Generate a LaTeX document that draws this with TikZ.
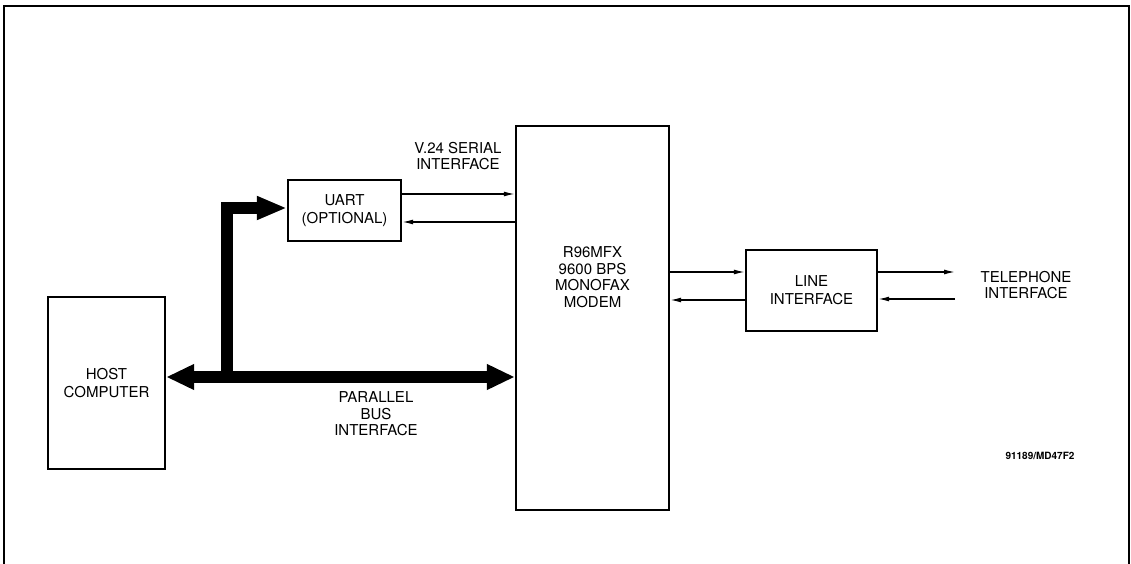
\documentclass[tikz,border=0pt]{standalone}
\usepackage{fontspec}
\setmainfont{TeX Gyre Heros}
\usetikzlibrary{arrows.meta}

\tikzset{
	blk/.style={draw, line width=2.4pt, rectangle, align=center, inner sep=0pt},
	lbl/.style={align=center, font=\fontsize{15}{16.5}\selectfont},
	thin/.style={line width=1.3pt, -{Latex[length=11pt,width=5pt]}},
	bus/.style={line width=12pt},
}

\begin{document}
\begin{tikzpicture}[x=1pt, y=-1pt, font=\fontsize{15}{18}\selectfont]
	\useasboundingbox (0,0) rectangle (1131,564);
	\draw [line width=1.4pt] (4,564) -- (4,6) -- (1129,6) -- (1129,564);
	\node [blk, minimum width=117pt, minimum height=172pt] (host) at (106.5,383){HOST\\COMPUTER};
	\node [blk, minimum width=113pt, minimum height=61pt] (uart) at (344.5,210.5){UART\\(OPTIONAL)};
	\node [blk, minimum width=153pt, minimum height=384pt] (modem) at (592.5,318){};
	\node [blk, minimum width=131pt, minimum height=81pt] (line) at (811.5,290.5){LINE\\INTERFACE};
	\node [lbl] (mtxt) at (592.5,277){R96MFX\\9600 BPS\\MONOFAX\\MODEM};
	\node [lbl] (v24) at (458,156){V.24 SERIAL\\INTERFACE};
	\node [lbl] (par) at (376,414){PARALLEL\\BUS\\INTERFACE};
	\node [lbl] (tel) at (1026,285){TELEPHONE\\INTERFACE};
	\node [font=\fontsize{10}{11}\bfseries] (ref) at (1040,456){91189/MD47F2};
	\coordinate (tap) at (227,377);
	\coordinate (corner) at (227,208);
	\coordinate (telA) at (955,272);
	\coordinate (telB) at (955,299);
	\draw [thin] (uart.east |- 0,194) -- (modem.west |- 0,194);
	\draw [thin] (modem.west |- 0,222) -- (uart.east |- 0,222);
	\draw [thin] (modem.east |- 0,272) -- (line.west |- 0,272);
	\draw [thin] (line.west |- 0,300) -- (modem.east |- 0,300);
	\draw [thin] (line.east |- telA) -- (telA);
	\draw [thin] (telB) -- (line.east |- telB);
	\draw [bus, {Triangle[length=28pt,width=24pt]}-{Triangle[length=28pt,width=24pt]}] (host.east |- tap) -- (modem.west |- tap);
	\draw [bus, -{Triangle[length=30pt,width=22pt]}] (tap) -- (corner) -- (uart.west |- corner);
\end{tikzpicture}
\end{document}
